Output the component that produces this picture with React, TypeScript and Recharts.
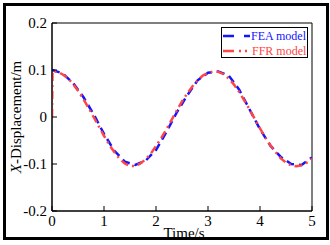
import {
  Legend,
  Line,
  LineChart,
  ReferenceArea,
  XAxis,
  YAxis,
} from "recharts";

const feaTime = [
  0, 0.2, 0.4, 0.6, 0.8, 1.0, 1.2, 1.4, 1.6, 1.8, 2.0, 2.2, 2.4, 2.6, 2.8, 3.0,
  3.2, 3.4, 3.6, 3.8, 4.0, 4.2, 4.4, 4.6, 4.8, 5.0,
];
const feaValues = [
  0.1, 0.093, 0.073, 0.043, 0.006, -0.036, -0.072, -0.095, -0.102, -0.093,
  -0.07, -0.032, 0.01, 0.046, 0.078, 0.094, 0.097, 0.088, 0.058, 0.016, -0.026,
  -0.061, -0.085, -0.1, -0.102, -0.086,
];

const ffrTime = [
  0, 0.01, 0.1, 0.2, 0.3, 0.4, 0.5, 0.6, 0.7, 0.8, 0.9, 1.0, 1.1, 1.2, 1.3, 1.4,
  1.5, 1.6, 1.7, 1.8, 1.9, 2.0, 2.1, 2.2, 2.3, 2.4, 2.5, 2.6, 2.7, 2.8, 2.9,
  3.0, 3.1, 3.2, 3.3, 3.4, 3.5, 3.6, 3.7, 3.8, 3.9, 4.0, 4.1, 4.2, 4.3, 4.4,
  4.5, 4.6, 4.7, 4.8, 4.9, 5.0,
];
const ffrValues = [
  0, 0.098, 0.096, 0.091, 0.083, 0.071, 0.056, 0.039, 0.02, 0.0, -0.02, -0.04,
  -0.059, -0.075, -0.089, -0.099, -0.104, -0.104, -0.099, -0.09, -0.078,
  -0.062, -0.045, -0.026, -0.006, 0.014, 0.033, 0.05, 0.065, 0.078, 0.088,
  0.094, 0.097, 0.096, 0.091, 0.082, 0.069, 0.053, 0.035, 0.016, -0.004,
  -0.024, -0.043, -0.06, -0.075, -0.088, -0.097, -0.103, -0.105, -0.103,
  -0.097, -0.089,
];

const xTicks = [0, 1, 2, 3, 4, 5];
const yTicks = [-0.2, -0.1, 0, 0.1, 0.2];

const seriesNames = ["FEA model", "FFR model"];
const seriesColors = ["#1414ff", "#ff4545"];

const feaData = feaTime.map((t, i) => ({ t, v: feaValues[i] }));
const ffrData = ffrTime.map((t, i) => ({ t, v: ffrValues[i] }));

const FONT = "'Liberation Serif', 'Times New Roman', serif";

const LegendBox = () => (
  <svg width={87} height={31} style={{ display: "block" }}>
    <rect x={0.5} y={0.5} width={86} height={30} fill="#fff" stroke="#000" />
    <line
      x1={2}
      x2={29}
      y1={9}
      y2={9}
      stroke={seriesColors[0]}
      strokeWidth={2.5}
      strokeDasharray="11 10"
    />
    <text x={30} y={13} fontSize={12} fill={seriesColors[0]} fontFamily={FONT}>
      {seriesNames[0]}
    </text>
    <line
      x1={2}
      x2={30}
      y1={24}
      y2={24}
      stroke={seriesColors[1]}
      strokeWidth={2.5}
      strokeDasharray="11 5 2 4 2 4"
    />
    <text x={31} y={28} fontSize={12} fill={seriesColors[1]} fontFamily={FONT}>
      {seriesNames[1]}
    </text>
  </svg>
);

export default function App() {
  return (
    <div
      style={{
        position: "absolute",
        left: 0,
        top: 0,
        width: 330,
        height: 245,
        background: "#fff",
        fontFamily: FONT,
      }}
    >
      <div
        style={{
          position: "absolute",
          left: 3,
          top: 3,
          width: 326,
          height: 237,
          border: "3px solid #000",
          boxSizing: "border-box",
        }}
      />
      <LineChart
        width={330}
        height={245}
        margin={{ top: 23, right: 18, bottom: 0, left: 0 }}
        style={{ position: "absolute", left: 0, top: 0 }}
      >
        <XAxis
          type="number"
          dataKey="t"
          domain={[0, 5]}
          ticks={xTicks}
          allowDataOverflow
          height={34}
          tickSize={-5}
          tickMargin={9}
          stroke="#000"
          tick={{ fill: "#000", fontSize: 15, fontFamily: FONT }}
          label={({ viewBox }: any) => (
            <text
              x={viewBox.x + viewBox.width / 2 + 2}
              y={viewBox.y + 26.5}
              textAnchor="middle"
              fontSize={15}
              fontFamily={FONT}
              fill="#000"
            >
              Time/s
            </text>
          )}
        />
        <YAxis
          type="number"
          domain={[-0.2, 0.2]}
          ticks={yTicks}
          allowDataOverflow
          width={52}
          tickSize={-5}
          tickMargin={10}
          stroke="#000"
          tickFormatter={(v: number) => (v === 0 ? "0" : String(v))}
          tick={{ fill: "#000", fontSize: 15, fontFamily: FONT }}
          label={({ viewBox }: any) => {
            const cx = 16;
            const cy = viewBox.y + viewBox.height / 2;
            return (
              <text
                x={cx}
                y={cy}
                dy="0.35em"
                transform={`rotate(-90, ${cx}, ${cy})`}
                textAnchor="middle"
                fontSize={15}
                fontFamily={FONT}
                fill="#000"
              >
                <tspan fontStyle="italic">X</tspan>-Displacement/m
              </text>
            );
          }}
        />
        <ReferenceArea
          x1={0}
          x2={5}
          y1={-0.2}
          y2={0.2}
          fill="none"
          stroke="#000"
          strokeWidth={1}
          ifOverflow="visible"
        />
        <Legend
          layout="vertical"
          align="center"
          verticalAlign="middle"
          content={() => <LegendBox />}
          wrapperStyle={{ left: 221, top: 27, width: 87, height: 31 }}
        />
        <Line
          data={feaData}
          dataKey="v"
          name={seriesNames[0]}
          type="linear"
          stroke={seriesColors[0]}
          strokeWidth={2.5}
          strokeDasharray="8 5"
          dot={false}
          isAnimationActive={false}
        />
        <Line
          data={ffrData}
          dataKey="v"
          name={seriesNames[1]}
          type="linear"
          stroke={seriesColors[1]}
          strokeWidth={2.5}
          strokeDasharray="8 4 2 4"
          dot={false}
          isAnimationActive={false}
        />
      </LineChart>
    </div>
  );
}
